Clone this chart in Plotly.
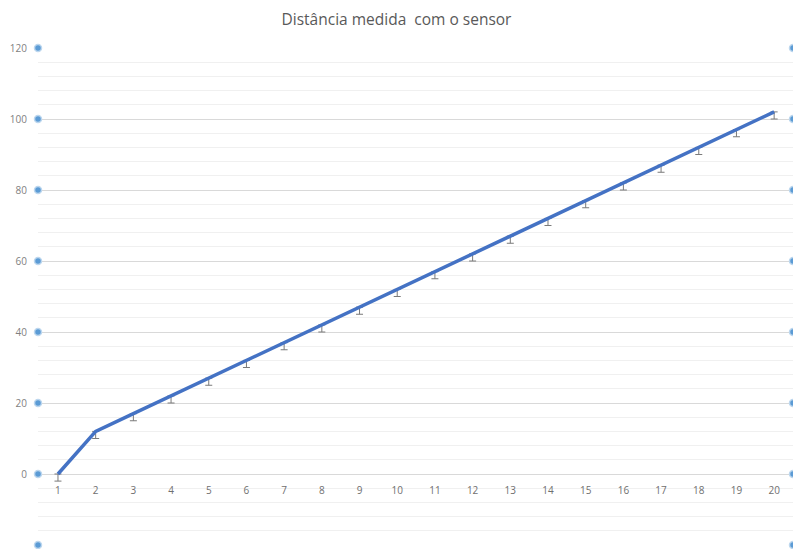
import plotly.graph_objects as go

# Medições do sensor
amostras = list(range(1, 21))
distancias = [0, 12, 17, 22, 27, 32, 37, 42, 47, 52, 57, 62, 67, 72, 77, 82, 87, 92, 97, 102]
erro_inferior = [2] * 20

y_ticks = [-20, 0, 20, 40, 60, 80, 100, 120]
x_labels = [str(n) for n in amostras]

x_min, x_max = 0.47, 20.5
y_min, y_max = -20, 120

fig = go.Figure()

# Linha principal com barras de erro inferiores
fig.add_trace(go.Scatter(
    x=amostras, y=distancias, mode="lines",
    line=dict(color="#4472C4", width=3.5),
    error_y=dict(type="data", symmetric=False, array=[0] * 20,
                 arrayminus=erro_inferior, color="#7a7a7a",
                 thickness=1, width=3.5),
    hoverinfo="x+y", showlegend=False,
))

# Marcadores nos eixos verticais (esquerdo e direito)
for xpos in (x_min, x_max):
    fig.add_trace(go.Scatter(
        x=[xpos] * len(y_ticks), y=y_ticks, mode="markers",
        marker=dict(size=7, color="#5B9BD5",
                    line=dict(color="#BDD7EE", width=1.5)),
        cliponaxis=False, hoverinfo="skip", showlegend=False,
    ))

fig.update_layout(
    width=793, height=549,
    margin=dict(l=38, r=0, t=48, b=4),
    paper_bgcolor="white", plot_bgcolor="white",
    title=dict(text="Distância medida  com o sensor", x=0.5, xanchor="center",
               y=0.965, yanchor="middle",
               font=dict(family="Open Sans", size=15.5, color="#595959")),
    xaxis=dict(
        range=[x_min, x_max], tickmode="array", tickvals=amostras,
        ticktext=x_labels, showgrid=False, zeroline=False, showline=False,
        anchor="free", position=(0 - y_min) / (y_max - y_min),
        tickfont=dict(family="Open Sans", size=10, color="#6f6f6f"),
        ticks="", ticklen=0, ticklabelstandoff=9,
    ),
    yaxis=dict(
        range=[y_min, y_max], tickmode="array", tickvals=y_ticks,
        showgrid=True, gridcolor="#d9d9d9", gridwidth=1,
        zeroline=False, showline=False,
        minor=dict(dtick=4, showgrid=True, gridcolor="#f0f0f0", gridwidth=1),
        tickfont=dict(family="Open Sans", size=10, color="#7f7f7f"),
        ticks="", ticklabelstandoff=10,
    ),
)

fig.write_html("out.html")
